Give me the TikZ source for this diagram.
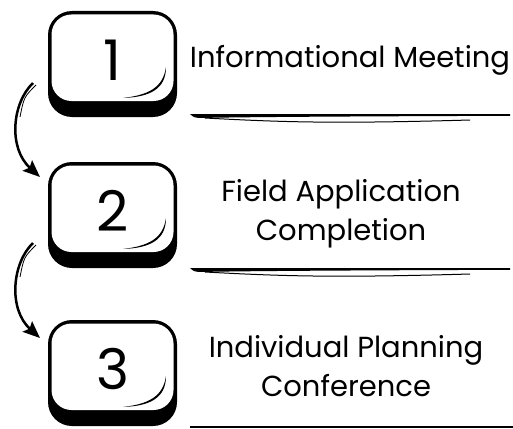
\documentclass[tikz,border=0pt]{standalone}
\usepackage{fontspec}
\setmainfont{Poppins}
\usetikzlibrary{arrows.meta}

\begin{document}
\begin{tikzpicture}[x=1pt,y=-1pt,>={Stealth[length=17pt,width=14pt,inset=3pt]},
    digit/.style={font=\fontsize{56}{60}\selectfont},
    steplabel/.style={font=\fontsize{29}{38.5}\selectfont,align=center,anchor=base}]
    \useasboundingbox (0,0) rectangle (513,428);
    % keys
    \foreach \n/\y in {1/11,2/162,3/320}{
        \fill[rounded corners=24pt] (48,\y) rectangle (177,\y+106);
        \fill[white,rounded corners=20pt] (51.5,\y+3.5) rectangle (173.5,\y+90);
        \fill (123,\y+87) .. controls (150,\y+86) and (166,\y+78) .. (166,\y+56) .. controls (163,\y+77) and (148,\y+84) .. cycle;
        \node[digit] (d\n) at (112.5,\y+49) {\n};
    }
    % labels (base = last line)
    \node[steplabel] (l1) at (350,67) {Informational Meeting};
    \node[steplabel] (l2) at (341,240) {Field Application\\Completion};
    \node[steplabel] (l3) at (346,396) {Individual Planning\\Conference};
    % brush lines
    \foreach \y in {114,268}{
        \fill (190,\y) -- (510,\y) -- (510,\y+1.8) .. controls (400,\y+2.2) and (250,\y+2.8) .. (200,\y+4) .. controls (194,\y+3.5) .. cycle;
        \draw[line width=1pt] (205,\y+4) .. controls (280,\y+8) and (330,\y+10) .. (470,\y+6);
    }
    \draw[line width=1.5pt] (190,427) -- (513,427);
    % arrows
    \coordinate (s1) at (33,83);
    \coordinate (t1) at (40,177);
    \coordinate (s2) at (33,243);
    \coordinate (t2) at (40,338);
    \draw[->,line width=2.5pt] (s1) .. controls +(-21,20) and +(-32,-29) .. (t1);
    \draw[->,line width=2.5pt] (s2) .. controls +(-21,20) and +(-32,-29) .. (t2);
    \draw[line width=0.8pt] ([xshift=3pt,yshift=-2pt]s1) .. controls +(-12,12) .. +(-16,32);
    \draw[line width=0.8pt] ([xshift=3pt,yshift=-2pt]s2) .. controls +(-12,12) .. +(-16,32);
\end{tikzpicture}
\end{document}
